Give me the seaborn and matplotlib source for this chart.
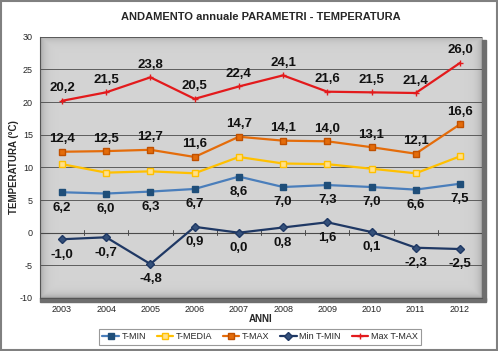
import matplotlib
matplotlib.use("Agg")
import matplotlib.pyplot as plt
import numpy as np
import pandas as pd
import seaborn as sns

anni = ["2003", "2004", "2005", "2006", "2007", "2008", "2009", "2010", "2011", "2012"]
t_min = [6.2, 6.0, 6.3, 6.7, 8.6, 7.0, 7.3, 7.0, 6.6, 7.5]
t_media = [10.5, 9.2, 9.4, 9.1, 11.6, 10.6, 10.5, 9.8, 9.1, 11.7]
t_max = [12.4, 12.5, 12.7, 11.6, 14.7, 14.1, 14.0, 13.1, 12.1, 16.6]
min_t_min = [-1.0, -0.7, -4.8, 0.9, 0.0, 0.8, 1.6, 0.1, -2.3, -2.5]
max_t_max = [20.2, 21.5, 23.8, 20.5, 22.4, 24.1, 21.6, 21.5, 21.4, 26.0]

sns.set_style("white")
plt.rcParams["font.family"] = ["Liberation Sans", "DejaVu Sans"]

fig = plt.figure(figsize=(4.98, 3.51), dpi=100)
ax = fig.add_axes([0.080, 0.151, 0.888, 0.744])

# light gray plot area, darker towards the edges
gx = np.linspace(0, 1, 300)
gy = np.linspace(0, 1, 200)
X, Y = np.meshgrid(gx, gy)
d = np.minimum(np.minimum(X, 1 - X) * 3.0, np.minimum(Y, 1 - Y) * 2.0)
shade = 0.83 - 0.16 * np.exp(-d / 0.03)
ax.imshow(np.dstack([shade] * 3), extent=[-0.5, 9.5, -10, 30], aspect="auto",
          zorder=0, interpolation="bilinear")

x = np.arange(len(anni))
series = [
    ("T-MIN", t_min, "#4a7ebb", "s", "#1f4e79", "#1f4e79", 4, "below"),
    ("T-MEDIA", t_media, "#ffc000", "s", "#ffe08a", "#ffc000", 4.5, None),
    ("T-MAX", t_max, "#e46c0a", "s", "#e46c0a", "#c05000", 4.5, "above"),
    ("Min T-MIN", min_t_min, "#1f3864", "D", "#34507a", "#1f3864", 4, "below"),
    ("Max T-MAX", max_t_max, "#e31a1c", "+", "#e31a1c", "#e31a1c", 5, "above"),
]

for name, vals, col, mk, mfc, mec, ms, pos in series:
    df = pd.DataFrame({"x": x, "y": vals})
    sns.lineplot(data=df, x="x", y="y", color=col, lw=1.6, marker=mk,
                 markersize=ms, markerfacecolor=mfc, markeredgecolor=mec,
                 markeredgewidth=1.0, label=name, ax=ax, zorder=3)
    if pos is not None:
        for xi, v in zip(x, vals):
            dy = 9 if pos == "above" else -11
            ax.annotate(f"{v:.1f}".replace(".", ","), (xi, v), xytext=(0, dy),
                        textcoords="offset points", ha="center", va="center",
                        fontsize=9.5, fontweight="bold", color="#111111", zorder=4)

ax.set_xlim(-0.5, 9.5)
ax.set_ylim(-10, 30)
ax.set_yticks(np.arange(-10, 31, 5))
ax.set_yticklabels([str(v) for v in range(-10, 31, 5)], fontsize=6.5)
ax.set_xticks(x)
ax.set_xticklabels(anni, fontsize=6.5)
ax.grid(axis="y", color="#4a4a4a", lw=0.6, zorder=1)
ax.set_axisbelow(True)
for s in ["top", "right"]:
    ax.spines[s].set_visible(False)
ax.spines["left"].set_color("#555555")
ax.spines["bottom"].set_color("#555555")
ax.tick_params(axis="y", length=3, pad=2, color="#555555")
ax.tick_params(axis="x", length=0, pad=5)

# category axis crossing at zero, with ticks between categories
ax.axhline(0, color="#4a4a4a", lw=0.8, zorder=1)
for b in np.arange(len(anni) + 1) - 0.5:
    ax.plot([b, b], [-0.35, 0.35], color="#4a4a4a", lw=0.7, zorder=1)

ax.set_xlabel("ANNI", fontsize=7, fontweight="bold", labelpad=0)
ax.set_ylabel("TEMPERATURA (°C)", fontsize=7, fontweight="bold", labelpad=1)
ax.set_title("ANDAMENTO annuale PARAMETRI - TEMPERATURA", fontsize=8,
             fontweight="bold", pad=12)

# shadow on right / bottom of plot area
ax.add_patch(plt.Rectangle((1.0, -0.012), 0.01, 1.0, transform=ax.transAxes,
                           color="#6e6e6e", clip_on=False, zorder=0))
ax.add_patch(plt.Rectangle((0.0, -0.014), 1.01, 0.014, transform=ax.transAxes,
                           color="#6e6e6e", clip_on=False, zorder=0))

h, l = ax.get_legend_handles_labels()
ax.legend_.remove()
leg = fig.legend(h, l, loc="center", bbox_to_anchor=(0.522, 0.04), ncol=5,
                 fontsize=6.5, frameon=True, fancybox=False, handlelength=1.8,
                 handletextpad=0.3, columnspacing=1.2, borderpad=0.4)
leg.get_frame().set_edgecolor("#808080")
leg.get_frame().set_linewidth(0.8)

fig.patches.append(plt.Rectangle((0.002, 0.003), 0.996, 0.994, transform=fig.transFigure,
                                 fill=False, edgecolor="#808080", lw=1.5))

fig.savefig("out.png", dpi=100)
